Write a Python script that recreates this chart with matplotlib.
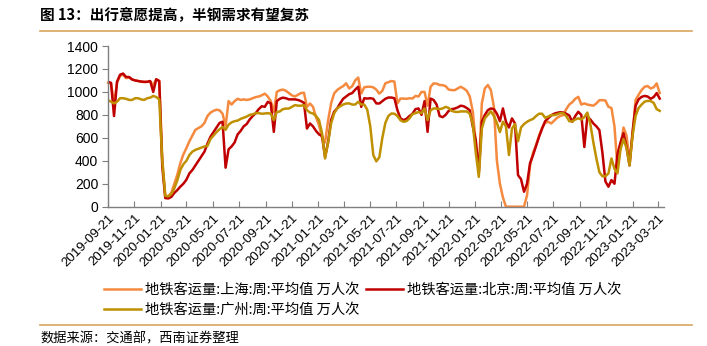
import numpy as np
import pandas as pd
import matplotlib
matplotlib.use("Agg")
import matplotlib.pyplot as plt
from matplotlib.lines import Line2D

plt.rcParams['font.family'] = ['Liberation Sans', 'Noto Sans CJK SC', 'DejaVu Sans']
cjk = ['Noto Sans CJK SC', 'DejaVu Sans']

# 周度数据，2019-09-21 起
fechas = pd.date_range('2019-09-21', periods=184, freq='7D')

shanghai = [1080, 1075, 900, 1080, 1140, 1150, 1120, 1125, 1110, 1100,
            1095, 1090, 1085, 1088, 1090, 1060, 1110, 1095, 420, 90,
            90, 120, 200, 280, 380, 455, 510, 570, 620, 670,
            685, 700, 730, 790, 820, 835, 845, 840, 810, 700,
            920, 890, 920, 940, 930, 935, 930, 935, 945, 955,
            960, 970, 985, 960, 920, 827, 1000, 1015, 1020, 1010,
            990, 970, 960, 975, 990, 993, 870, 899, 870, 780,
            710, 600, 560, 750, 899, 986, 1016, 1035, 1050, 1075,
            1030, 1050, 1100, 1125, 986, 1040, 1045, 1045, 1040, 1020,
            985, 1010, 1075, 1085, 1095, 1090, 900, 942, 942, 940,
            945, 942, 965, 960, 1000, 1000, 880, 1045, 1074, 1072,
            1060, 1059, 1050, 1020, 1016, 1015, 1030, 1045, 1030, 1010,
            960, 830, 550, 300, 900, 1030, 1060, 1016, 870, 400,
            200, 80, 0, 0, 0, 0, 0, 0, 0, 100,
            360, 470, 540, 620, 690, 730, 740, 725, 750, 775,
            790, 798, 850, 890, 910, 940, 957, 890, 900, 890,
            885, 880, 900, 928, 928, 925, 870, 860, 700, 340,
            520, 690, 620, 400, 620, 930, 975, 1016, 1045, 1051,
            1030, 1040, 1074, 990]

beijing = [1088, 1079, 790, 1090, 1150, 1160, 1130, 1130, 1108, 1100,
           1095, 1090, 1088, 1088, 1095, 1000, 1110, 1095, 350, 75,
           72, 85, 120, 145, 175, 200, 235, 290, 320, 360,
           400, 440, 480, 550, 610, 650, 690, 730, 740, 340,
           500, 525, 560, 630, 660, 700, 720, 760, 790, 815,
           850, 875, 870, 913, 900, 652, 920, 940, 950, 945,
           935, 935, 935, 930, 920, 905, 681, 725, 700, 660,
           630, 615, 435, 560, 754, 827, 856, 900, 940, 960,
           980, 990, 1020, 1045, 870, 945, 942, 945, 940, 900,
           899, 920, 940, 951, 951, 945, 841, 770, 754, 765,
           790, 810, 850, 856, 800, 920, 652, 942, 930, 890,
           790, 780, 800, 835, 850, 855, 865, 880, 875, 860,
           840, 700, 580, 300, 740, 800, 841, 856, 850, 810,
           745, 856, 740, 690, 769, 725, 275, 240, 130, 200,
           380, 450, 530, 610, 680, 745, 770, 795, 810, 818,
           823, 820, 810, 795, 740, 790, 827, 800, 520, 784,
           760, 725, 700, 667, 470, 220, 174, 232, 200, 460,
           560, 640, 520, 360, 650, 880, 935, 957, 965, 960,
           940, 955, 990, 942]

guangzhou = [928, 915, 900, 915, 945, 945, 940, 930, 930, 945,
             945, 935, 930, 945, 950, 965, 955, 935, 400, 95,
             90, 110, 160, 230, 320, 370, 400, 450, 480, 495,
             505, 515, 525, 530, 590, 620, 650, 675, 695, 670,
             715, 735, 745, 750, 765, 775, 785, 800, 805, 815,
             815, 810, 812, 815, 810, 754, 825, 830, 850, 855,
             855, 870, 885, 880, 880, 885, 841, 820, 812, 790,
             755, 640, 420, 560, 725, 812, 856, 875, 890, 899,
             900, 890, 890, 914, 890, 890, 845, 700, 450, 395,
             430, 600, 730, 790, 812, 810, 790, 754, 740, 745,
             770, 806, 815, 825, 815, 856, 754, 840, 856, 855,
             850, 856, 870, 860, 835, 827, 825, 830, 830, 830,
             810, 720, 470, 260, 680, 770, 800, 830, 790, 730,
             650, 740, 700, 450, 680, 720, 570, 690, 720, 740,
             754, 765, 790, 810, 810, 775, 785, 798, 798, 805,
             815, 815, 790, 745, 742, 760, 770, 760, 780, 820,
             720, 560, 420, 300, 265, 265, 290, 420, 330, 290,
             500, 590, 510, 360, 620, 790, 860, 890, 915, 922,
             920, 905, 850, 835]

etiquetas_x = ['2019-09-21', '2019-11-21', '2020-01-21', '2020-03-21', '2020-05-21',
               '2020-07-21', '2020-09-21', '2020-11-21', '2021-01-21', '2021-03-21',
               '2021-05-21', '2021-07-21', '2021-09-21', '2021-11-21', '2022-01-21',
               '2022-03-21', '2022-05-21', '2022-07-21', '2022-09-21', '2022-11-21',
               '2023-01-21', '2023-03-21']

nombres = ['地铁客运量:上海:周:平均值 万人次',
           '地铁客运量:北京:周:平均值 万人次',
           '地铁客运量:广州:周:平均值 万人次']
colores = ['#F58A3F', '#C00000', '#BF9000']

fig = plt.figure(figsize=(7.07, 3.46), dpi=100)
ax = fig.add_axes([108 / 707, 1 - 206.7 / 346, 556 / 707, 160.7 / 346])

l_sh, = ax.plot(fechas, shanghai, color=colores[0], lw=1.8, clip_on=False)
l_bj, = ax.plot(fechas, beijing, color=colores[1], lw=1.8)
l_gz, = ax.plot(fechas, guangzhou, color=colores[2], lw=1.8)

ax.set_ylim(0, 1400)
ax.set_yticks(np.arange(0, 1401, 200))
ax.set_xlim(pd.Timestamp('2019-09-21'), pd.Timestamp('2023-04-04'))
pos_x = pd.to_datetime(etiquetas_x)
ax.set_xticks(pos_x)
ax.set_xticklabels(etiquetas_x, rotation=45, ha='right', rotation_mode='anchor')

for s in ['top', 'right']:
    ax.spines[s].set_visible(False)
for s in ['left', 'bottom']:
    ax.spines[s].set_color('#7F7F7F')
    ax.spines[s].set_linewidth(1.0)
ax.tick_params(axis='y', direction='out', length=4, color='#7F7F7F', labelsize=10, pad=3)
ax.tick_params(axis='x', direction='in', length=4, color='#7F7F7F', labelsize=9.5, pad=4)

# Título y líneas decorativas
fig.text(40 / 707, 1 - 15.5 / 346, '图 13：出行意愿提高，半钢需求有望复苏',
         family=cjk, fontweight='bold', fontsize=10.5, va='center', ha='left')
fig.add_artist(Line2D([40 / 707, 692 / 707], [1 - 30.5 / 346] * 2, color='#D9A65F', lw=1.2))
fig.add_artist(Line2D([40 / 707, 692 / 707], [1 - 325 / 346] * 2, color='#D9A65F', lw=1.2))
fig.text(40 / 707, 1 - 339 / 346, '数据来源：交通部，西南证券整理',
         family=cjk, style='italic', fontsize=9.5, va='center', ha='left')

leg = fig.legend([l_sh, l_gz, l_bj], [nombres[0], nombres[2], nombres[1]],
                 ncol=2, loc='upper left', bbox_to_anchor=(104 / 707, 1 - 283 / 346),
                 frameon=False, prop={'family': cjk, 'size': 10.3},
                 handlelength=2.6, handletextpad=0.3, columnspacing=0.4,
                 labelspacing=0.4, borderaxespad=0, borderpad=0)

fig.savefig('out.png', dpi=100)
